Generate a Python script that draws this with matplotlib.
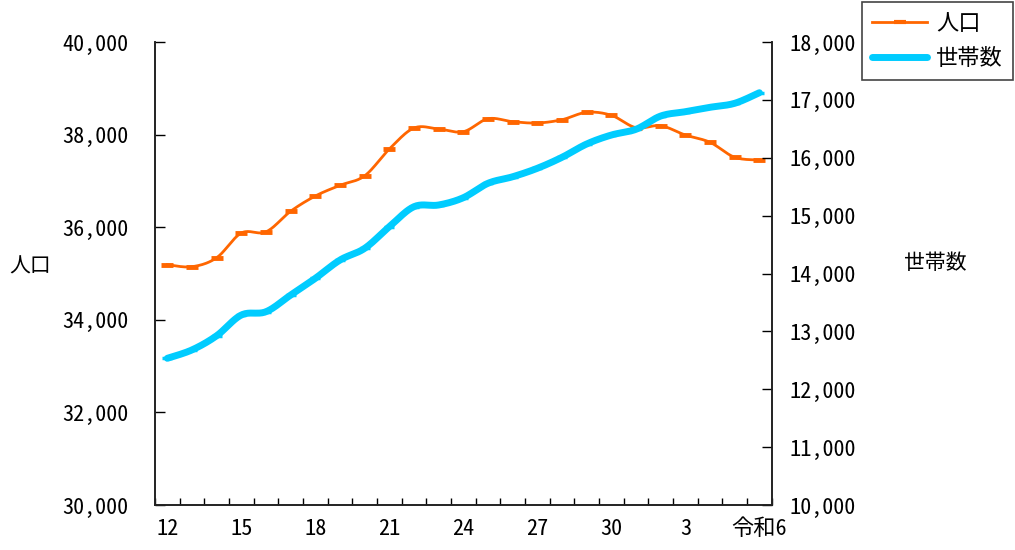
import matplotlib
matplotlib.use("Agg")
import matplotlib.pyplot as plt
import matplotlib.ticker as mticker
from matplotlib.lines import Line2D
import numpy as np

plt.rcParams['font.family'] = ['Noto Sans Mono CJK JP', 'Noto Sans CJK JP', 'DejaVu Sans']

# data (平成12年 ～ 令和6年)
years = list(range(25))
xlabels = ["12", "15", "18", "21", "24", "27", "30", "3", "令和6"]
xlabel_pos = [0, 3, 6, 9, 12, 15, 18, 21, 24]
population = [35190, 35147, 35341, 35875, 35900, 36345, 36674, 36905, 37110,
              37689, 38143, 38121, 38063, 38343, 38279, 38251, 38322, 38482,
              38417, 38149, 38192, 37991, 37834, 37510, 37451]
households = [12535, 12680, 12925, 13283, 13340, 13628, 13917, 14233, 14435,
              14809, 15155, 15184, 15310, 15559, 15672, 15818, 16008, 16238,
              16393, 16492, 16721, 16796, 16872, 16941, 17124]


def smooth(x, y, n=20):
    # excel-like smoothed line (catmull-rom bezier)
    x = np.asarray(x, float)
    y = np.asarray(y, float)
    px = np.concatenate([[x[0]], x, [x[-1]]])
    py = np.concatenate([[y[0]], y, [y[-1]]])
    t = np.linspace(0, 1, n)[:, None]
    xs, ys = [], []
    for i in range(1, len(px) - 2):
        p0x, p1x, p2x, p3x = px[i - 1], px[i], px[i + 1], px[i + 2]
        p0y, p1y, p2y, p3y = py[i - 1], py[i], py[i + 1], py[i + 2]
        c1x, c1y = p1x + (p2x - p0x) / 6, p1y + (p2y - p0y) / 6
        c2x, c2y = p2x - (p3x - p1x) / 6, p2y - (p3y - p1y) / 6
        bx = (1 - t) ** 3 * p1x + 3 * (1 - t) ** 2 * t * c1x + 3 * (1 - t) * t ** 2 * c2x + t ** 3 * p2x
        by = (1 - t) ** 3 * p1y + 3 * (1 - t) ** 2 * t * c1y + 3 * (1 - t) * t ** 2 * c2y + t ** 3 * p2y
        xs.append(bx.ravel())
        ys.append(by.ravel())
    return np.concatenate(xs), np.concatenate(ys)


orange = "#FF6600"
cyan = "#00CCFF"

fig = plt.figure(figsize=(10.15, 5.5), dpi=100)
ax = fig.add_axes([0.1527, 0.0818, 0.6076, 0.8418])
ax2 = ax.twinx()

sx, sy = smooth(years, population)
ax.plot(sx, sy, color=orange, lw=2, zorder=3)
ax.plot(years, population, ls="none", marker="_", ms=9, mew=3.5, color=orange, zorder=3)

hx, hy = smooth(years, households)
ax2.plot(hx, hy, color=cyan, lw=5, solid_capstyle="round", zorder=2)
ax2.plot(years, households, ls="none", marker="_", ms=7, mew=2.5, color=cyan, zorder=2)

ax.set_xlim(-0.5, 24.5)
ax.set_ylim(30000, 40000)
ax2.set_ylim(10000, 18000)
ax.set_yticks(np.arange(30000, 40001, 2000))
ax2.set_yticks(np.arange(10000, 18001, 1000))
ax.yaxis.set_major_formatter(mticker.StrMethodFormatter("{x:,.0f}"))
ax2.yaxis.set_major_formatter(mticker.StrMethodFormatter("{x:,.0f}"))

ax.set_xticks(xlabel_pos)
ax.set_xticklabels(xlabels)
ax.set_xticks(np.arange(-0.5, 24.6, 1), minor=True)
ax.tick_params(axis="x", which="major", length=0, pad=9, labelsize=16)
ax.tick_params(axis="x", which="minor", length=5, direction="in", width=1)
ax.tick_params(axis="y", direction="in", length=7, width=1, labelsize=16, pad=19)
ax2.tick_params(axis="y", direction="in", length=7, width=1, labelsize=16, pad=13)

for a in (ax, ax2):
    a.spines["top"].set_visible(False)
    for s in ("left", "right", "bottom"):
        a.spines[s].set_linewidth(1.2)
        a.spines[s].set_color("#222222")

fig.text(0.03, 0.515, "人口", fontsize=15, ha="center", va="center",
         family=['Noto Sans CJK JP'])
fig.text(0.921, 0.522, "世帯数", fontsize=15, ha="center", va="center",
         family=['Noto Sans CJK JP'])

handles = [
    Line2D([0], [0], color=orange, lw=2, marker="_", ms=8, mew=3),
    Line2D([0], [0], color=cyan, lw=5, solid_capstyle="round"),
]
leg = fig.legend(handles, ["人口", "世帯数"], loc="upper right",
                 bbox_to_anchor=(1013 / 1015, 548 / 550), borderaxespad=0,
                 prop={'family': 'Noto Sans CJK JP', 'size': 16},
                 fancybox=False, edgecolor="#444444", framealpha=1,
                 handlelength=2.5, borderpad=0.45, labelspacing=0.55,
                 handletextpad=0.4)
leg.get_frame().set_linewidth(1.2)

fig.savefig("out.png", dpi=100)
